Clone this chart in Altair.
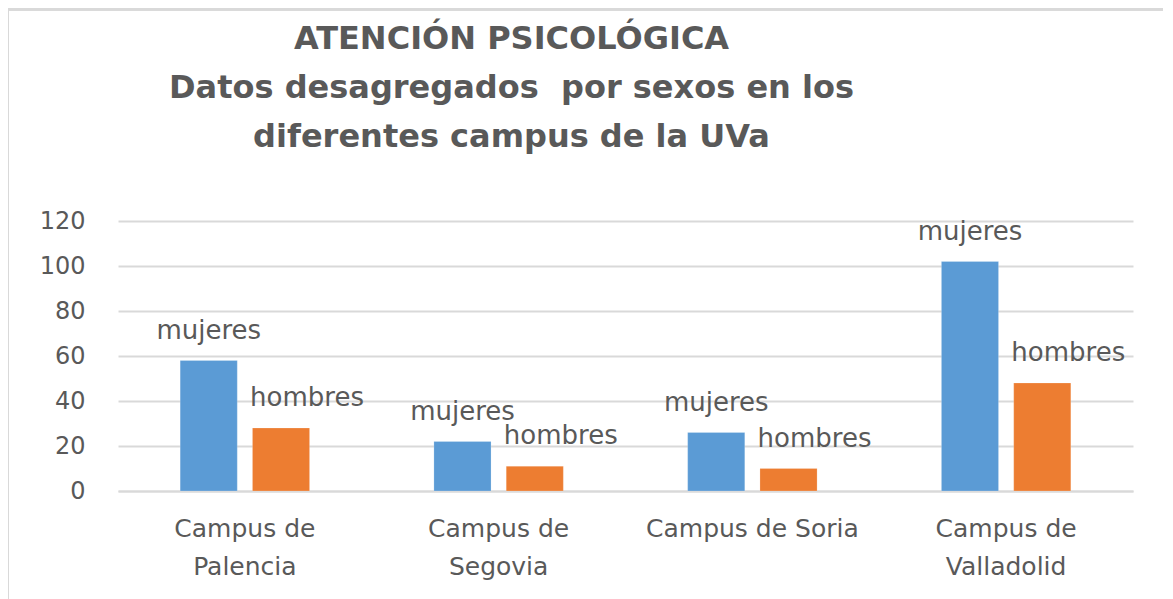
import altair as alt
import pandas as pd

categories = ["Campus de Palencia", "Campus de Segovia", "Campus de Soria", "Campus de Valladolid"]
mujeres = [58, 22, 26, 102]
hombres = [28, 11, 10, 48]
series = ["mujeres", "hombres"]
colors = ["#5B9BD5", "#ED7D31"]
y_ticks = [0, 20, 40, 60, 80, 100, 120]
title_lines = ["ATENCIÓN PSICOLÓGICA", "Datos desagregados\u00a0 por sexos en los", "diferentes campus de la UVa"]

rows = []
for c, m, h in zip(categories, mujeres, hombres):
    rows.append({"campus": c, "sexo": "mujeres", "valor": m})
    rows.append({"campus": c, "sexo": "hombres", "valor": h})
df = pd.DataFrame(rows)

GRAY = "#595959"
FONT = "DejaVu Sans"

x_enc = alt.X(
    "campus:N", sort=categories,
    scale=alt.Scale(paddingInner=0.49, paddingOuter=0.245),
    axis=alt.Axis(
        title=None, labelAngle=0, ticks=False, domain=True, domainColor="#D9D9D9", domainWidth=2,
        labelFont=FONT, labelFontSize=25, labelColor=GRAY, labelPadding=25, labelLineHeight=38,
        labelBaseline="top", labelLimit=500,
        labelExpr="datum.label == 'Campus de Soria' ? datum.label : ['Campus de', slice(datum.label, 10)]",
    ),
)
xo_enc = alt.XOffset("sexo:N", sort=series, scale=alt.Scale(paddingInner=0.21, paddingOuter=0))
y_enc = alt.Y(
    "valor:Q", scale=alt.Scale(domain=[0, 120], nice=False),
    axis=alt.Axis(
        title=None, values=y_ticks, ticks=False, domain=False, grid=True, gridColor="#D9D9D9",
        gridWidth=2, labelFont=FONT, labelFontSize=24, labelColor=GRAY, labelPadding=33,
    ),
)

base = alt.Chart(df)

bars = base.mark_bar(stroke="#FFFFFF", strokeWidth=0.5, strokeOpacity=0.4).encode(
    x=x_enc, xOffset=xo_enc, y=y_enc,
    color=alt.Color("sexo:N", sort=series, scale=alt.Scale(domain=series, range=colors), legend=None),
)

lab_m = base.transform_filter(alt.datum.sexo == "mujeres").mark_text(
    font=FONT, fontSize=26, color=GRAY, baseline="middle", dy=-30, dx=0
).encode(x=alt.X("campus:N", sort=categories), xOffset=alt.XOffset("sexo:N", sort=series), y="valor:Q", text="sexo:N")

lab_h = base.transform_filter(alt.datum.sexo == "hombres").mark_text(
    font=FONT, fontSize=26, color=GRAY, baseline="middle", dy=-30, dx=26
).encode(x=alt.X("campus:N", sort=categories), xOffset=alt.XOffset("sexo:N", sort=series), y="valor:Q", text="sexo:N")

border_top = alt.Chart(df).mark_rule(color="#D9D9D9", strokeWidth=3).encode(
    x=alt.value(-110), x2=alt.value(1060), y=alt.value(-212)
)
border_left = alt.Chart(df).mark_rule(color="#D9D9D9", strokeWidth=3).encode(
    x=alt.value(-110.5), y=alt.value(-212), y2=alt.value(380)
)

chart = alt.layer(bars, lab_m, lab_h, border_top, border_left).properties(
    width=1015, height=270,
    background="#FFFFFF",
    title=alt.TitleParams(
        text=title_lines, font=FONT, fontSize=32, fontWeight="bold", color=GRAY,
        anchor="middle", dx=-114, lineHeight=49, offset=-146,
    ),
    autosize=alt.AutoSizeParams(type="none"),
    padding={"left": 110, "top": 213, "right": 30, "bottom": 110},
).configure_view(stroke=None)

chart.save("out.html", embed_options={"renderer": "svg", "actions": False})
